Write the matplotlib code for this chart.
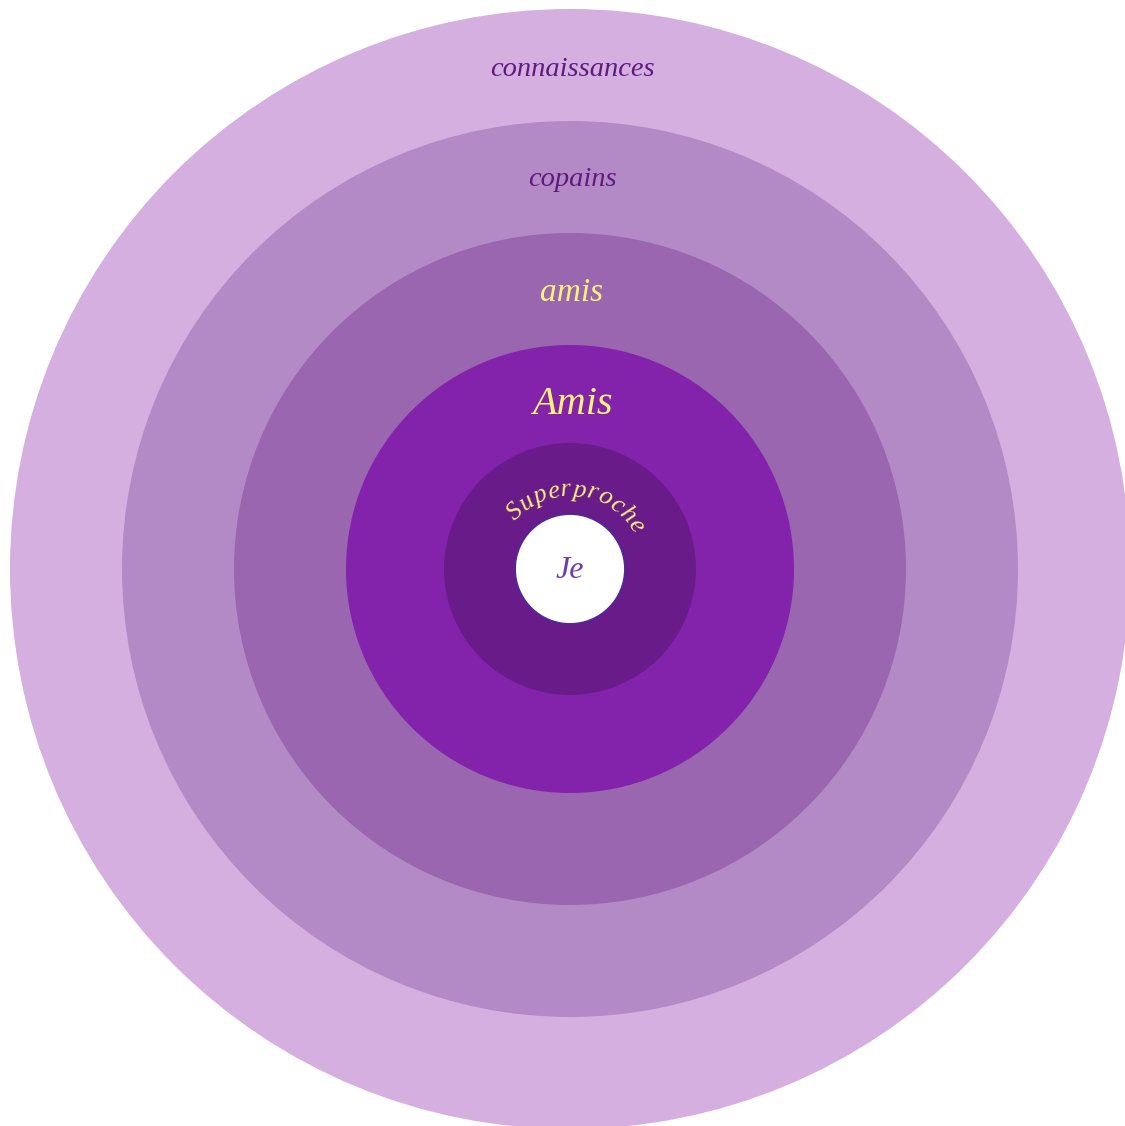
import numpy as np
import matplotlib
matplotlib.use("Agg")
import matplotlib.pyplot as plt
from matplotlib.patches import Circle
from matplotlib.font_manager import FontProperties

# ---- data ----
labels = ["connaissances", "copains", "amis", "Amis", "Superproche", "Je"]
levels = [5.0, 4.0, 3.0, 2.0, 1.125, 0.49]          # relative ring radii
ring_colors = ["#D4AFDF", "#B48AC6", "#9966AF", "#8323AB", "#6A1B8A", "#FFFFFF"]
text_colors = ["#5E1A7E", "#5E1A7E", "#FFF27A", "#FFF27A", "#FFF27A", "#6A3DB0"]
font_sizes = [20.5, 20.5, 24, 29, 19, 23]

W, H = 1125, 1126
cx, cy = 570, 569
unit = 112.0

fig = plt.figure(figsize=(W / 100, H / 100), dpi=100)
ax = fig.add_axes([0, 0, 1, 1])
ax.set_xlim(0, W)
ax.set_ylim(H, 0)
ax.set_aspect("auto")
ax.axis("off")

for i, (lv, col) in enumerate(zip(levels, ring_colors)):
    r = lv * unit
    if i == len(levels) - 1:
        ax.add_patch(Circle((cx, cy), r, facecolor=col, edgecolor="#4B2A9A", lw=1.2, zorder=i + 1))
    else:
        ax.add_patch(Circle((cx, cy), r, facecolor=col, edgecolor="none", zorder=i + 1))

fam = ["Liberation Serif", "DejaVu Serif"]

# straight labels in the upper band of each ring
label_y = [69, 179, 293, 404]
for i in range(4):
    fp = FontProperties(family=fam, style="italic", size=font_sizes[i])
    ax.text(cx + 2, label_y[i], labels[i], color=text_colors[i], fontproperties=fp,
            ha="center", va="center", zorder=20)

# curved label
fig.canvas.draw()
renderer = fig.canvas.get_renderer()
fp = FontProperties(family=fam, style="italic", size=font_sizes[4])
text = labels[4]
widths = [renderer.get_text_width_height_descent(ch, fp, ismath=False)[0] for ch in text]
spacing = 0.5
widths = [w + spacing for w in widths]
total = sum(widths)
r_base = 73.0
center_ang = 84.0
ang_span = np.degrees(total / r_base)
ang = center_ang + ang_span / 2
for ch, w in zip(text, widths):
    a_mid = ang - np.degrees(w / 2 / r_base)
    x = cx + r_base * np.cos(np.radians(a_mid))
    y = cy - r_base * np.sin(np.radians(a_mid))
    ax.text(x, y, ch, color=text_colors[4], fontproperties=fp, rotation=a_mid - 90,
            rotation_mode="anchor", ha="center", va="baseline", zorder=20)
    ang -= np.degrees(w / r_base)

fp = FontProperties(family=fam, style="italic", size=font_sizes[5])
ax.text(cx, cy + 2, labels[5], color=text_colors[5], fontproperties=fp,
        ha="center", va="center", zorder=20)

fig.savefig("out.png", dpi=100, facecolor="white")
